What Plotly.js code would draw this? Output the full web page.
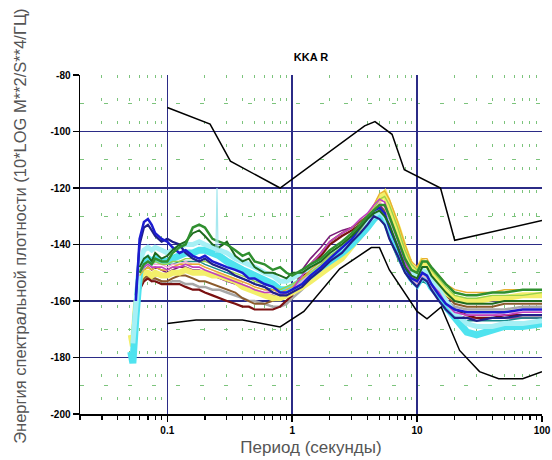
<!DOCTYPE html>
<html>
<head>
<meta charset="utf-8">
<script src="https://cdn.plot.ly/plotly-3.0.1.min.js"></script>
<style>html,body{margin:0;padding:0;background:#fff;}#chart{width:552px;height:460px;}</style>
</head>
<body>
<div id="chart"></div>
<script>
// ---------- DATA ----------
const chartTitle = "KKA R";
const xTitle = "Период (секунды)";
const yTitle = "Энергия спектральной плотности (10*LOG M**2/S**4/ГЦ)";

const xTickVals = [0.1, 1, 10, 100];
const xTickText = ["0.1", "1", "10", "100"];
const yTickVals = [-200, -180, -160, -140, -120, -100, -80];

// High noise model (black, upper)
const highPeriod = [0.1, 0.22, 0.32, 0.8, 3.8, 4.6, 6.3, 7.9, 15.4, 20, 100];
const highDb     = [-91.5, -97.4, -110.5, -120.0, -98.0, -96.5, -101.0, -113.5, -120.0, -138.5, -131.5];

// Low noise model (black, lower)
const lowPeriod = [0.1, 0.17, 0.4, 0.8, 1.24, 2.4, 4.3, 5, 6, 10, 12, 15.6, 21.9, 31.6, 45, 70, 100];
const lowDb     = [-168.0, -166.7, -166.7, -169.2, -163.7, -148.6, -141.1, -141.1, -149.0, -163.7, -166.3, -162.1, -177.5, -185.0, -187.5, -187.5, -185.0];

// Shared period grid of the PSD curves
const periods = [0.051,0.053,0.056,0.06,0.065,0.07,0.075,0.08,0.09,0.1,
                 0.11,0.125,0.14,0.16,0.18,0.2,0.23,0.26,0.3,0.35,
                 0.4,0.45,0.5,0.6,0.7,0.8,0.9,1,1.2,1.4,
                 1.7,2,2.5,3,3.5,4,4.5,5,5.5,6,
                 7,8,9,10,11,12,13,15,17,20,
                 25,30,40,50,70,100];

const purpleDb = [null,null,null,-152,-149,-148,-149,-148,-149,-150,
 -149,-148,-148,-149,-149,-150,-151,-152,-153,-154,
 -155,-156,-157,-158,-158,-159,-158,-157,-149,-145,
 -141,-137,-135,-134,-132,-130,-127,-126,-128,-133,
 -141,-149,-153,-155,-152,-153,-155,-158,-162,-165,
 -166,-166,-166,-166,-166,-166];
const tealDb = [null,null,null,-148,-146,-145,-146,-146,-147,-147,
 -147,-146,-146,-146,-146,-147,-148,-149,-150,-151,
 -152,-153,-154,-155,-156,-157,-157,-156,-154,-151,
 -148,-145,-142,-139,-136,-133,-131,-130,-133,-138,
 -145,-150,-153,-155,-153,-154,-156,-159,-162,-165,
 -167,-167,-167,-167,-166,-166];
const grayDb = [null,null,null,-154,-152,-152,-153,-152,-153,-154,
 -153,-153,-154,-154,-155,-155,-156,-156,-157,-158,
 -159,-160,-160,-161,-162,-162,-161,-159,-156,-153,
 -150,-147,-144,-141,-138,-135,-132,-130,-131,-135,
 -142,-148,-152,-154,-151,-151,-154,-157,-160,-162,
 -163,-163,-163,-163,-162,-162];
const darkRedDb = [null,null,null,-156,-153,-152,-153,-153,-154,-154,
 -154,-154,-155,-156,-156,-157,-158,-159,-160,-161,
 -162,-162,-163,-163,-163,-162,-160,-158,-152,-148,
 -144,-140,-137,-135,-133,-131,-129,-128,-129,-133,
 -140,-147,-152,-154,-151,-151,-153,-157,-160,-163,
 -165,-166,-166,-165,-165,-165];
const brownDb = [null,null,null,-155,-152,-151,-152,-152,-153,-153,
 -152,-151,-151,-152,-153,-153,-154,-155,-156,-157,
 -159,-160,-161,-161,-160,-159,-158,-156,-150,-147,
 -143,-139,-136,-134,-132,-130,-128,-127,-128,-132,
 -139,-146,-151,-153,-150,-150,-152,-155,-158,-161,
 -162,-162,-162,-161,-161,-161];
const yellowDb = [-172,-176,-162,-152,-150,-150,-151,-150,-151,-151,
 -150,-150,-149,-150,-150,-150,-151,-151,-152,-153,
 -155,-156,-157,-158,-159,-159,-158,-157,-155,-153,
 -150,-148,-145,-141,-137,-133,-128,-124,-122,-126,
 -134,-142,-148,-150,-146,-147,-150,-154,-157,-159,
 -160,-160,-159,-159,-158,-158];
const cyanDb = [-178,-182,-166,-150,-146,-145,-146,-145,-146,-146,
 -145,-144,-143,-143,-142,-142,-143,-144,-146,-148,
 -149,-150,-151,-153,-154,-156,-156,-155,-153,-151,
 -148,-146,-143,-140,-137,-134,-131,-129,-131,-135,
 -142,-148,-152,-154,-151,-152,-155,-158,-162,-166,
 -171,-172,-170,-169,-169,-168];
const lightCyanDb = [null,-175,-160,-146,-142,-141,-142,-141,-142,-143,
 -142,-141,-140,-140,-139,-140,-141,-142,-143,-145,
 -146,-147,-148,-150,-151,-153,-153,-152,-150,-148,
 -146,-144,-141,-138,-135,-132,-130,-128,-130,-134,
 -140,-146,-150,-152,-149,-150,-153,-156,-160,-164,
 -168,-169,-169,-168,-168,-167];
const pinkDb = [null,null,null,-149,-147,-146,-147,-147,-147,-148,
 -147,-147,-146,-147,-147,-148,-149,-150,-151,-152,
 -153,-154,-155,-156,-157,-157,-157,-156,-153,-150,
 -147,-143,-140,-137,-134,-130,-127,-125,-127,-131,
 -139,-147,-152,-154,-151,-152,-155,-158,-161,-164,
 -165,-165,-165,-164,-164,-164];
const lightGreenDb = [null,null,null,-149,-147,-146,-147,-146,-147,-147,
 -146,-146,-145,-145,-146,-146,-147,-148,-149,-150,
 -151,-152,-153,-154,-155,-156,-155,-154,-152,-150,
 -147,-144,-141,-138,-135,-131,-127,-124,-123,-126,
 -134,-142,-147,-149,-146,-146,-149,-152,-155,-158,
 -159,-159,-158,-158,-158,-157];
const orangeDb = [null,null,null,-151,-149,-148,-149,-148,-149,-149,
 -148,-147,-147,-147,-147,-148,-149,-150,-151,-152,
 -153,-154,-155,-156,-156,-157,-156,-155,-152,-149,
 -146,-143,-140,-137,-134,-130,-126,-122,-121,-124,
 -132,-140,-146,-148,-145,-145,-148,-151,-154,-156,
 -157,-157,-157,-156,-156,-156];
const magentaDb = [null,null,null,-150,-148,-147,-148,-148,-148,-149,
 -148,-148,-147,-148,-148,-149,-150,-151,-152,-153,
 -154,-155,-156,-157,-157,-158,-157,-156,-151,-147,
 -143,-139,-136,-134,-131,-129,-126,-124,-125,-130,
 -138,-146,-151,-153,-150,-151,-154,-157,-161,-164,
 -165,-165,-165,-165,-164,-164];
const navyDb = [null,null,-158,-140,-134,-133,-135,-137,-139,-138,
 -139,-140,-143,-145,-146,-145,-147,-148,-149,-151,
 -152,-153,-154,-155,-157,-158,-158,-157,-155,-152,
 -149,-146,-143,-139,-136,-133,-130,-131,-133,-138,
 -144,-150,-153,-155,-152,-153,-156,-160,-163,-166,
 -166,-167,-166,-166,-165,-165];
const blueDb = [null,null,-160,-138,-132,-131,-133,-136,-138,-139,
 -141,-143,-142,-144,-145,-144,-146,-147,-148,-149,
 -150,-152,-152,-154,-155,-157,-157,-156,-154,-151,
 -148,-145,-141,-138,-134,-131,-128,-127,-129,-134,
 -141,-148,-152,-153,-150,-151,-154,-158,-161,-163,
 -164,-164,-164,-164,-163,-163];
const darkGreenDb = [null,null,null,-148,-145,-144,-146,-143,-145,-144,
 -142,-140,-139,-136,-135,-137,-140,-141,-139,-144,
 -146,-145,-148,-150,-150,-151,-152,-150,-150,-148,
 -146,-143,-140,-137,-134,-131,-129,-128,-130,-133,
 -141,-148,-151,-152,-148,-148,-151,-154,-157,-160,
 -161,-161,-161,-160,-160,-160];
const greenDb = [null,null,null,-150,-147,-146,-147,-145,-146,-146,
 -143,-141,-140,-134,-133,-134,-138,-139,-140,-142,
 -144,-143,-146,-147,-149,-148,-150,-151,-149,-147,
 -145,-142,-139,-136,-133,-130,-128,-126,-126,-130,
 -138,-145,-149,-150,-146,-146,-148,-151,-154,-157,
 -158,-158,-157,-157,-156,-156];

// isolated spike in one record
const spikePeriod = [0.245, 0.25, 0.255];
const spikeDb = [-143, -120, -143];

// ---------- BUILD ----------
const series = [
  {y: purpleDb, color: "#7a1a7a", w: 1.6},
  {y: tealDb, color: "#1a8c8c", w: 1.4},
  {y: grayDb, color: "#a8a8a8", w: 2.5},
  {y: darkRedDb, color: "#7a1010", w: 2.2},
  {y: brownDb, color: "#8b5a2b", w: 2},
  {y: yellowDb, color: "#f3ef6a", w: 6},
  {y: cyanDb, color: "#4fe3ef", w: 7},
  {y: lightCyanDb, color: "#a6f0f5", w: 5},
  {y: pinkDb, color: "#f4a6cf", w: 1.4},
  {y: lightGreenDb, color: "#9ad24a", w: 1.4},
  {y: orangeDb, color: "#e8b030", w: 1.4},
  {y: magentaDb, color: "#c040c0", w: 1.6},
  {y: navyDb, color: "#20208a", w: 2.2},
  {y: blueDb, color: "#1c1cd0", w: 2.5},
  {y: darkGreenDb, color: "#1e6a1e", w: 2},
  {y: greenDb, color: "#2f8f2f", w: 2.5}
];

const traces = series.map(s => ({
  type: "scatter", mode: "lines", x: periods, y: s.y,
  line: {color: s.color, width: s.w}, connectgaps: false, hoverinfo: "skip"
}));
traces.push({type: "scatter", mode: "lines", x: spikePeriod, y: spikeDb,
  line: {color: "#a6e8ef", width: 1.2}, hoverinfo: "skip"});
traces.push({type: "scatter", mode: "lines", x: highPeriod, y: highDb,
  line: {color: "#000", width: 1.5}, hoverinfo: "skip"});
traces.push({type: "scatter", mode: "lines", x: lowPeriod, y: lowDb,
  line: {color: "#000", width: 1.5}, hoverinfo: "skip"});

const minorX = [];
for (let d = -2; d <= 1; d++) for (let k = 2; k <= 9; k++) minorX.push(k * Math.pow(10, d));

const layout = {
  width: 552, height: 460,
  margin: {l: 80, r: 10, t: 75, b: 46},
  paper_bgcolor: "#fff", plot_bgcolor: "#fff",
  showlegend: false, hovermode: false,
  font: {family: "Liberation Sans, Arial, sans-serif", color: "#000"},
  title: {text: chartTitle, x: 0.5635, xanchor: "center", y: 0.876, yanchor: "middle",
          font: {size: 11, weight: "bold", color: "#000"}},
  xaxis: {
    type: "log", range: [Math.log10(0.02), 2],
    tickmode: "array", tickvals: xTickVals, ticktext: xTickText,
    ticks: "outside", ticklen: 6, tickwidth: 1.5, tickcolor: "#000",
    showline: true, linecolor: "#000", linewidth: 1.5,
    showgrid: true, gridcolor: "#2b2b86", gridwidth: 1.5,
    zeroline: false,
    tickfont: {size: 10, weight: "bold", color: "#000"},
    minor: {tickmode: "array", tickvals: minorX, ticks: "outside", ticklen: 4,
            tickwidth: 1.2, tickcolor: "#000",
            showgrid: true, gridcolor: "#7cc47c", gridwidth: 1, griddash: "3px,20px"},
    title: {text: xTitle, standoff: 6, font: {size: 17, color: "#555"}}
  },
  yaxis: {
    range: [-200, -80],
    tickmode: "array", tickvals: yTickVals, ticktext: yTickVals.map(v => String(v)),
    ticks: "outside", ticklen: 6, tickwidth: 1.5, tickcolor: "#000",
    showline: true, linecolor: "#000", linewidth: 1.5,
    showgrid: true, gridcolor: "#2b2b86", gridwidth: 1.5,
    zeroline: false,
    tickfont: {size: 10, weight: "bold", color: "#000"},
    minor: {dtick: 10, tick0: -200, showgrid: true, gridcolor: "#7cc47c", gridwidth: 1, griddash: "4px,20px"}
  },
  annotations: [{
    text: yTitle, textangle: -90, showarrow: false,
    xref: "paper", yref: "paper", x: -0.13, y: 0.555, xanchor: "center", yanchor: "middle",
    font: {size: 16.5, color: "#555"}
  }]
};

Plotly.newPlot("chart", traces, layout, {displayModeBar: false, staticPlot: true});
</script>
</body>
</html>
